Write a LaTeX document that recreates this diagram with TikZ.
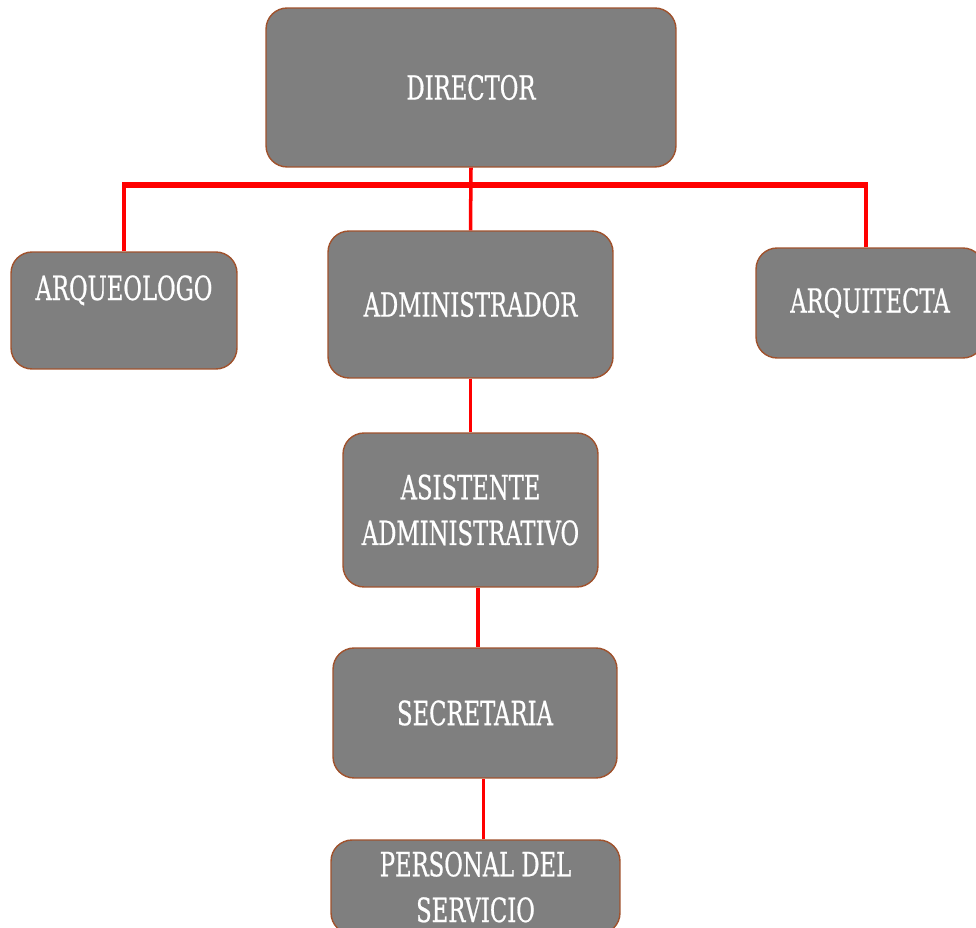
\documentclass[tikz,border=0pt]{standalone}
\usepackage{fontspec}
\newfontfamily\postfont[FakeStretch=0.68,FakeBold=0.6]{DejaVu Serif}
\definecolor{postgray}{HTML}{7F7F7F}
\definecolor{postedge}{HTML}{A0522D}
\tikzstyle{post}=[draw=postedge,fill=postgray,line width=0.8pt,rounded corners=12pt,text=white,align=center,inner sep=0pt,font=\postfont\fontsize{19}{26}\selectfont]
\tikzstyle{link}=[draw=red,line width=2pt]
\tikzstyle{bus}=[draw=red,line width=3.4pt]

\begin{document}
\begin{tikzpicture}[x=0.02cm,y=-0.02cm]
                \useasboundingbox (0,0) rectangle (976,928);
                \clip (0,0) rectangle (976,928);
                \path node[post,minimum width=8.2cm,minimum height=3.18cm
                    ] (dir) at (471,87.5) {DIRECTOR}
                    node[post,minimum width=4.52cm,minimum height=2.34cm,text depth=26pt
                    ] (arq) at (124,310.5) {ARQUEOLOGO}
                    node[post,minimum width=5.7cm,minimum height=2.94cm
                    ] (adm) at (470.5,304.5) {ADMINISTRADOR}
                    node[post,minimum width=4.56cm,minimum height=2.2cm
                    ] (arqt) at (870,303) {ARQUITECTA}
                    node[post,minimum width=5.1cm,minimum height=3.08cm
                    ] (asis) at (470.5,510) {ASISTENTE\\ADMINISTRATIVO}
                    node[post,minimum width=5.68cm,minimum height=2.6cm
                    ] (secr) at (475,713) {SECRETARIA}
                    node[post,minimum width=5.78cm,minimum height=1.88cm
                    ] (pers) at (475.5,887) {PERSONAL DEL\\SERVICIO}
                    ;
                % red lines of the chart
                \coordinate (busL) at (122,185);
                \coordinate (busR) at (868,185);
                \draw[bus] (busL) -- (busR);
                \draw[link] (dir.south) -- (adm.north);
                \draw[link] (arq.north) -- (arq.north |- busL);
                \draw[link] ([xshift=-0.08cm]arqt.north) -- ([xshift=-0.08cm]arqt.north |- busR);
                \draw[link] (adm.south) -- (asis.north);
                \draw[link] ([xshift=0.06cm]secr.north) -- ([xshift=0.06cm]secr.north |- asis.south);
                \draw[link] ([xshift=0.16cm]pers.north) -- ([xshift=0.16cm]pers.north |- secr.south);
            \end{tikzpicture}
\end{document}
